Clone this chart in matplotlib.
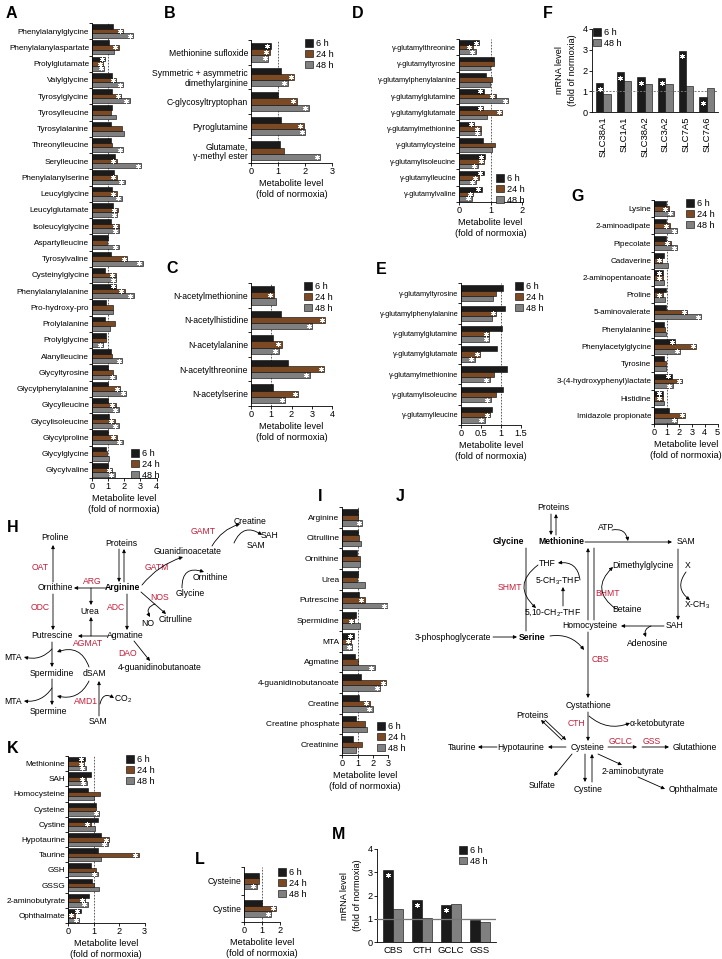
import matplotlib

matplotlib.use("Agg")
import matplotlib.pyplot as plt  # noqa: E402
import numpy as np  # noqa: E402
from matplotlib import transforms  # noqa: E402

plt.rcParams["font.family"] = ["Liberation Sans", "DejaVu Sans"]
plt.rcParams["mathtext.default"] = "regular"
plt.rcParams["axes.linewidth"] = 0.6
plt.rcParams["xtick.major.width"] = 0.6
plt.rcParams["ytick.major.width"] = 0.6
plt.rcParams["ytick.minor.width"] = 0.6

# ---------------- data (fold of normoxia; sig = "6h 24h 48h" flags) ----------------
A_cats = ["Phenylalanylglycine", "Phenylalanylaspartate", "Prolylglutamate", "Valylglycine",
          "Tyrosylglycine", "Tyrosylleucine", "Tyrosylalanine", "Threonylleucine", "Serylleucine",
          "Phenylalanylserine", "Leucylglycine", "Leucylglutamate", "Isoleucylglycine",
          "Aspartylleucine", "Tyrosylvaline", "Cysteinylglycine", "Phenylalanylalanine",
          "Pro-hydroxy-pro", "Prolylalanine", "Prolylglycine", "Alanylleucine", "Glycyltyrosine",
          "Glycylphenylalanine", "Glycylleucine", "Glycylisoleucine", "Glycylproline",
          "Glycylglycine", "Glycylvaline"]
A_6 = [1.31, 1.08, 0.83, 1.21, 1.25, 1.27, 1.17, 1.15, 1.40, 1.35, 1.25, 1.31, 1.15, 0.98,
       1.17, 0.83, 1.50, 0.88, 0.83, 0.88, 1.19, 1.00, 1.00, 1.00, 1.04, 1.00, 0.88, 1.00]
A_24 = [1.94, 1.67, 0.71, 1.50, 1.81, 1.15, 1.88, 1.25, 1.52, 1.52, 1.54, 1.60, 1.67, 0.94,
        2.19, 1.46, 2.04, 1.29, 1.40, 0.88, 1.25, 1.29, 1.75, 1.46, 1.40, 1.54, 0.96, 1.25]
A_48 = [2.56, 1.35, 0.77, 1.94, 2.35, 1.46, 1.96, 1.94, 3.06, 2.04, 1.83, 1.56, 1.67, 1.67,
        3.15, 1.50, 2.60, 1.33, 1.13, 0.71, 1.88, 1.48, 2.13, 1.65, 1.65, 1.92, 1.08, 1.42]
A_sig = ["011", "010", "111", "011", "011", "000", "000", "001", "011", "011", "011", "011",
         "011", "001", "011", "011", "111", "000", "000", "001", "001", "001", "011", "011",
         "011", "011", "000", "011"]

B_cats = ["Methionine sufloxide", "Symmetric + asymmetric\ndimethylarginine",
          "C-glycosyltryptophan", "Pyroglutamine", "Glutamate,\nγ-methyl ester"]
B_6 = [0.73, 1.11, 0.99, 1.10, 1.09]
B_24 = [0.70, 1.60, 1.70, 1.95, 1.23]
B_48 = [0.64, 1.37, 2.15, 2.01, 2.56]
B_sig = ["111", "011", "011", "011", "001"]

C_cats = ["N-acetylmethionine", "N-acetylhistidine", "N-acetylalanine", "N-acetylthreonine",
          "N-acetylserine"]
C_6 = [1.13, 1.48, 1.08, 1.84, 1.08]
C_24 = [1.13, 3.67, 1.51, 3.62, 2.33]
C_48 = [1.21, 3.03, 1.38, 2.89, 1.69]
C_sig = ["010", "011", "011", "011", "011"]

D_cats = ["γ-glutamylthreonine", "γ-glutamyltyrosine", "γ-glutamylphenylalanine",
          "γ-glutamylglutamine", "γ-glutamylglutamate", "γ-glutamylmethionine",
          "γ-glutamylcysteine", "γ-glutamylisoleucine", "γ-glutamylleucine", "γ-glutamylvaline"]
D_6 = [0.64, 1.12, 0.85, 0.79, 0.77, 0.48, 0.77, 0.81, 0.78, 0.72]
D_24 = [0.43, 1.10, 1.06, 1.17, 1.38, 0.70, 1.15, 0.80, 0.63, 0.45]
D_48 = [0.53, 0.97, 0.97, 1.56, 0.88, 0.69, 1.06, 0.60, 0.53, 0.40]
D_sig = ["111", "000", "000", "111", "110", "111", "000", "111", "111", "111"]

E_cats = ["γ-glutamyltyrosine", "γ-glutamylphenylalanine", "γ-glutamylglutamine",
          "γ-glutamylglutamate", "γ-glutamylmethionine", "γ-glutamylisoleucine",
          "γ-glutamylleucine"]
E_6 = [1.05, 1.10, 1.02, 0.90, 1.14, 1.04, 0.78]
E_24 = [0.875, 0.88, 0.71, 0.48, 0.83, 0.875, 0.73]
E_48 = [0.80, 0.78, 0.71, 0.34, 0.72, 0.74, 0.60]
E_sig = ["000", "010", "011", "011", "001", "001", "011"]

F_cats = ["SLC38A1", "SLC1A1", "SLC38A2", "SLC3A2", "SLC7A5", "SLC7A6"]
F_6 = [1.40, 1.93, 1.67, 1.65, 2.95, 0.72]
F_48 = [0.85, 1.47, 1.35, 1.35, 1.25, 1.15]
F_sig = ["10", "10", "10", "10", "10", "10"]

G_cats = ["Lysine", "2-aminoadipate", "Pipecolate", "Cadaverine", "2-aminopentanoate",
          "Proline", "5-aminovalerate", "Phenylalanine", "Phenylacetylglycine", "Tyrosine",
          "3-(4-hydroxyphenyl)lactate", "Histidine", "Imidazole propionate"]
G_6 = [0.97, 0.97, 0.92, 0.76, 0.68, 0.92, 0.95, 0.82, 1.68, 0.82, 1.39, 0.71, 1.18]
G_24 = [1.18, 1.24, 1.32, 0.66, 0.71, 0.71, 2.63, 0.89, 3.32, 0.97, 2.24, 0.71, 2.47]
G_48 = [1.58, 1.82, 1.82, 1.13, 0.79, 0.87, 3.74, 0.97, 2.08, 0.95, 1.47, 0.79, 1.82]
G_sig = ["011", "011", "011", "010", "110", "010", "011", "000", "111", "000", "111",
         "110", "011"]

I_cats = ["Arginine", "Citrulline", "Ornithine", "Urea", "Putrescine", "Spermidine", "MTA",
          "Agmatine", "4-guanidinobutanoate", "Creatine", "Creatine phosphate", "Creatinine"]
I_6 = [1.00, 1.00, 0.95, 1.01, 1.10, 0.90, 0.75, 0.86, 1.25, 1.10, 0.92, 0.69]
I_24 = [1.00, 1.10, 1.15, 0.97, 1.48, 0.80, 0.60, 1.03, 2.86, 1.78, 1.48, 1.29]
I_48 = [1.30, 1.20, 1.15, 1.48, 2.95, 1.14, 0.67, 2.10, 2.47, 1.98, 1.60, 0.90]
I_sig = ["001", "000", "000", "000", "011", "010", "111", "001", "011", "011", "000", "000"]

K_cats = ["Methionine", "SAH", "Homocysteine", "Cysteine", "Cystine", "Hypotaurine",
          "Taurine", "GSH", "GSSG", "2-aminobutyrate", "Ophthalmate"]
K_6 = [0.65, 0.90, 0.77, 1.09, 1.16, 1.30, 1.18, 0.90, 0.94, 0.84, 0.51]
K_24 = [0.64, 0.71, 1.26, 1.08, 0.90, 1.62, 2.78, 1.09, 1.00, 0.68, 0.26]
K_48 = [0.71, 0.74, 1.03, 1.23, 1.06, 1.56, 1.31, 1.17, 1.23, 0.77, 0.44]
K_sig = ["111", "011", "000", "001", "010", "011", "010", "001", "000", "011", "111"]

L_cats = ["Cysteine", "Cystine"]
L_6 = [0.85, 1.00]
L_24 = [0.80, 1.78]
L_48 = [0.70, 1.50]
L_sig = ["001", "011"]

M_cats = ["CBS", "CTH", "GCLC", "GSS"]
M_6 = [3.10, 1.82, 1.60, 0.93]
M_48 = [1.40, 1.05, 1.62, 0.87]
M_sig = ["10", "10", "10", "00"]

# ---------------- layout helpers (pixel coordinates) ----------------
W, H = 722, 959
C6, C24, C48 = "#1b1b1b", "#7b4a25", "#808080"
RED = "#c41e3a"
FS = 6.3

fig = plt.figure(figsize=(W / 100, H / 100), dpi=100)
bg = fig.add_axes([0, 0, 1, 1])
bg.set_xlim(0, W)
bg.set_ylim(H, 0)
bg.axis("off")


def box(x0, y0, x1, y1):
    return fig.add_axes([x0 / W, 1 - y1 / H, (x1 - x0) / W, (y1 - y0) / H])


def star(ax, x, y, dx=0.0, dy=0.0):
    tr = transforms.offset_copy(ax.transData, fig=fig, x=dx, y=dy, units="points")
    ax.plot(x, y, marker=(6, 2, 0), ms=3.3, mew=0.7, color="white", transform=tr,
            zorder=5, clip_on=False)


def legend(ax, lx, ly):
    ax.legend(loc="upper left", bbox_to_anchor=(lx / W, 1 - ly / H),
              bbox_transform=fig.transFigure, frameon=False, fontsize=6.6,
              handlelength=0.9, handleheight=0.9, handletextpad=0.35,
              labelspacing=0.2, borderpad=0, borderaxespad=0)


def hpanel(rect, cats, series, sig, xmax, xticks, fs=FS, h=0.29, leg=None, xtl=None):
    ax = box(*rect)
    n = len(cats)
    y = np.arange(n)
    cols = [C6, C24, C48]
    labs = ["6 h", "24 h", "48 h"]
    for j, v in enumerate(series):
        yy = y + (j - 1) * h
        ax.barh(yy, v, height=h, color=cols[j], edgecolor="black", lw=0.4,
                label=labs[j], zorder=2)
        for i in range(n):
            if sig[i][j] == "1":
                star(ax, v[i], yy[i], dx=-2.6)
    ax.axvline(1, color="#444444", lw=0.6, ls=(0, (2, 1.6)), zorder=1)
    ax.set_xlim(0, xmax)
    ax.set_ylim(n - 0.5, -0.5)
    ax.set_yticks(y)
    ax.set_yticklabels(cats, fontsize=fs, linespacing=1.1)
    ax.set_yticks(np.arange(n + 1) - 0.5, minor=True)
    ax.set_xticks(xticks)
    if xtl:
        ax.set_xticklabels(xtl)
    ax.tick_params(axis="y", which="major", length=0, pad=2)
    ax.tick_params(axis="y", which="minor", length=2)
    ax.tick_params(axis="x", length=2, pad=1, labelsize=6.6)
    for s in ("top", "right"):
        ax.spines[s].set_visible(False)
    ax.set_xlabel("Metabolite level\n(fold of normoxia)", fontsize=6.6, labelpad=2,
                  linespacing=1.25)
    if leg:
        legend(ax, *leg)
    return ax


def vpanel(rect, cats, v6, v48, sig, ref_ls, rot, leg):
    ax = box(*rect)
    x = np.arange(len(cats))
    w = 0.36
    ax.bar(x - w / 2, v6, width=w, color=C6, edgecolor="black", lw=0.4, label="6 h", zorder=2)
    ax.bar(x + w / 2, v48, width=w, color=C48, edgecolor="black", lw=0.4, label="48 h",
           zorder=2)
    for i in range(len(cats)):
        if sig[i][0] == "1":
            star(ax, x[i] - w / 2, v6[i], dy=-4)
    ax.axhline(1, color="#777777", lw=0.9 if ref_ls == "-" else 0.7, ls=ref_ls, zorder=3)
    ax.set_xlim(-0.55, len(cats) - 0.45)
    ax.set_ylim(0, 4)
    ax.set_yticks([0, 1, 2, 3, 4])
    ax.set_xticks(x)
    ax.set_xticklabels(cats, rotation=rot, fontsize=6.8)
    ax.tick_params(axis="x", length=0, pad=3)
    ax.tick_params(axis="y", length=2, pad=1, labelsize=6.6)
    for s in ("top", "right"):
        ax.spines[s].set_visible(False)
    ax.set_ylabel("mRNA level\n(fold of normoxia)", fontsize=6.6, labelpad=4,
                  linespacing=1.6)
    legend(ax, *leg)
    return ax


# ---------------- bar panels ----------------
hpanel((92, 23, 156.5, 478), A_cats, [A_6, A_24, A_48], A_sig, 4, [0, 1, 2, 3, 4],
       fs=5.9, h=0.29, leg=(131, 449))
hpanel((251, 40, 332, 163), B_cats, [B_6, B_24, B_48], B_sig, 3, [0, 1, 2, 3],
       fs=6.2, h=0.25, leg=(305, 39))
hpanel((251, 283, 332, 406), C_cats, [C_6, C_24, C_48], C_sig, 4, [0, 1, 2, 3, 4],
       fs=6.2, h=0.25, leg=(304, 282))
hpanel((459, 39, 522, 202), D_cats, [D_6, D_24, D_48], D_sig, 2, [0, 1, 2],
       fs=5.3, h=0.28, leg=(496, 174))
hpanel((461, 283, 521, 425), E_cats, [E_6, E_24, E_48], E_sig, 1.5, [0, 0.5, 1, 1.5],
       fs=5.3, h=0.26, leg=(515, 282), xtl=["0", "0.5", "1", "1.5"])
hpanel((654, 200, 717.5, 424), G_cats, [G_6, G_24, G_48], G_sig, 5, [0, 1, 2, 3, 4, 5],
       fs=5.8, h=0.28, leg=(686, 199))
hpanel((342, 507, 388.5, 755), I_cats, [I_6, I_24, I_48], I_sig, 3, [0, 1, 2, 3],
       fs=6.0, h=0.27, leg=(377, 722))
hpanel((68, 756, 144.5, 923), K_cats, [K_6, K_24, K_48], K_sig, 3, [0, 1, 2, 3],
       fs=5.9, h=0.28, leg=(126, 755))
hpanel((244, 867, 280.4, 922), L_cats, [L_6, L_24, L_48], L_sig, 2, [0, 1, 2],
       fs=6.2, h=0.2, leg=(278, 868))

vpanel((592, 29, 718, 112), F_cats, F_6, F_48, F_sig, (0, (2, 1.5)), 90, (593, 28))
vpanel((377, 849, 496, 942), M_cats, M_6, M_48, M_sig, "-", 0, (459, 846))

# ---------------- panel letters ----------------
for lt, (lx, ly) in {"A": (6, 6), "B": (164, 6), "C": (166, 261), "D": (352, 6),
                     "E": (376, 262), "F": (543, 6), "G": (571, 189), "H": (7, 520),
                     "I": (318, 489), "J": (396, 489), "K": (7, 741), "L": (195, 852),
                     "M": (332, 827)}.items():
    bg.text(lx, ly, lt, fontsize=11.5, fontweight="bold", va="top", ha="left")


# ---------------- pathway diagrams ----------------
def t(x, y, s, c="black", bold=False, ha="center", fs=6.2):
    bg.text(x, y, s, color=c, fontsize=fs, ha=ha, va="center",
            fontweight="bold" if bold else "normal")


def arr(x0, y0, x1, y1, rad=0.0):
    bg.annotate("", xy=(x1, y1), xytext=(x0, y0),
                arrowprops=dict(arrowstyle="-|>", lw=0.6, color="black", mutation_scale=5,
                                shrinkA=0, shrinkB=0,
                                connectionstyle=f"arc3,rad={rad}"))


def seg(x0, y0, x1, y1, rad=0.0):
    bg.annotate("", xy=(x1, y1), xytext=(x0, y0),
                arrowprops=dict(arrowstyle="-", lw=0.6, color="black", shrinkA=0, shrinkB=0,
                                connectionstyle=f"arc3,rad={rad}"))


# H: arginine metabolism
for x, y, s in [(55, 538, "Proline"), (121, 544, "Proteins"), (55, 588, "Ornithine"),
                (210, 578, "Ornithine"), (190, 593, "Glycine"), (176, 620, "Citrulline"),
                (148, 623, "NO"), (90, 611, "Urea"), (52, 636, "Putrescine"),
                (125, 636, "Agmatine"), (160, 667, "4-guanidinobutanoate"), (13, 658, "MTA"),
                (52, 673, "Spermidine"), (94, 674, "dSAM"), (13, 702, "MTA"),
                (123, 699, "CO$_2$"), (48, 711, "Spermine"), (98, 722, "SAM"),
                (250, 521, "Creatine"), (270, 535, "SAH"), (256, 546, "SAM"),
                (188, 551, "Guanidinoacetate")]:
    t(x, y, s)
t(122, 588, "Arginine", bold=True)
for x, y, s in [(40, 567, "OAT"), (92, 581, "ARG"), (157, 567, "GATM"), (160, 598, "NOS"),
                (40, 608, "ODC"), (116, 608, "ADC"), (88, 643, "AGMAT"), (128, 654, "DAO"),
                (86, 701, "AMD1"), (203, 532, "GAMT")]:
    t(x, y, s, c=RED)
arr(53, 582, 53, 545)
arr(119, 549, 119, 582)
arr(124, 582, 124, 549)
arr(106, 588, 74, 588)
arr(91, 588, 91, 605)
arr(127, 594, 127, 630)
arr(142, 585, 183, 557, rad=-0.15)
arr(182, 588, 204, 572, rad=-0.7)
arr(141, 592, 166, 614)
arr(155, 604, 150, 617, rad=0.6)
arr(53, 594, 53, 630)
arr(108, 636, 78, 636)
arr(91, 636, 91, 617)
arr(134, 641, 150, 661)
arr(52, 642, 52, 667)
arr(52, 649, 24, 657, rad=-0.3)
arr(89, 667, 57, 652, rad=0.5)
arr(52, 679, 52, 705)
arr(52, 688, 24, 701, rad=-0.3)
arr(89, 681, 57, 696, rad=-0.4)
arr(99, 716, 99, 681)
arr(100, 704, 114, 698, rad=-0.7)
arr(212, 546, 240, 524, rad=-0.2)
arr(234, 543, 262, 535, rad=-0.6)

# J: methionine / cysteine metabolism
for x, y, s in [(553, 508, "Proteins"), (606, 527, "ATP"), (686, 542, "SAM"),
                (547, 563, "THF"), (643, 566, "Dimethylglycine"), (688, 566, "X"),
                (558, 581, "5-CH$_3$-THF"), (697, 605, "X-CH$_3$"),
                (553, 612, "5,10-CH$_2$-THF"), (627, 609, "Betaine"),
                (590, 626, "Homocysteine"), (675, 626, "SAH"), (453, 637, "3-phosphoglycerate"),
                (648, 644, "Adenosine"), (588, 705, "Cystathione"), (532, 715, "Proteins"),
                (657, 723, "α-ketobutyrate"), (462, 747, "Taurine"), (521, 747, "Hypotaurine"),
                (588, 747, "Cysteine"), (695, 747, "Glutathione"),
                (633, 772, "2-aminobutyrate"), (542, 786, "Sulfate"), (588, 790, "Cystine"),
                (693, 790, "Ophthalmate")]:
    t(x, y, s)
t(508, 542, "Glycine", bold=True)
t(561, 542, "Methionine", bold=True)
t(532, 637, "Serine", bold=True)
for x, y, s in [(510, 588, "SHMT"), (607, 593, "BHMT"), (600, 659, "CBS"), (576, 723, "CTH"),
                (621, 741, "GCLC"), (652, 741, "GSS")]:
    t(x, y, s, c=RED)
arr(551, 514, 551, 535)
arr(556, 535, 556, 514)
arr(585, 542, 672, 542)
arr(612, 530, 628, 541, rad=-0.5)
arr(678, 549, 678, 620)
arr(686, 572, 690, 600, rad=0.5)
arr(664, 626, 621, 626)
arr(651, 626, 646, 637, rad=0.5)
seg(526, 548, 526, 631)
arr(538, 565, 536, 608, rad=0.6)
arr(563, 606, 563, 587)
arr(580, 580, 558, 563, rad=0.5)
arr(588, 620, 588, 548)
seg(594, 620, 594, 548)
arr(616, 609, 613, 567, rad=-0.6)
arr(493, 637, 517, 637)
arr(550, 636, 584, 650, rad=-0.3)
arr(588, 632, 588, 698)
arr(588, 712, 588, 741)
arr(589, 716, 630, 723, rad=0.3)
arr(566, 747, 548, 747)
arr(497, 747, 478, 747)
arr(545, 720, 566, 740)
arr(562, 740, 541, 720)
arr(608, 747, 637, 747)
arr(642, 747, 669, 747)
arr(572, 754, 554, 776)
arr(585, 754, 585, 782)
arr(592, 782, 592, 754)
arr(598, 754, 622, 765)
arr(638, 777, 665, 789)

fig.savefig("out.png", dpi=100)
